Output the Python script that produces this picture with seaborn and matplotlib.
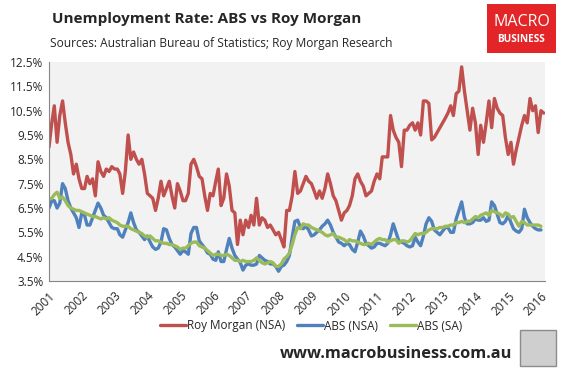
import pandas as pd
import matplotlib
matplotlib.use("Agg")
import matplotlib.pyplot as plt
import matplotlib.patches as mpatches
import seaborn as sns

# monthly readings, Jan 2001 onwards
roy_morgan = [
    9.0, 10.0, 10.7, 9.2, 10.3, 10.9, 10.0, 9.2, 8.7, 7.9, 8.3, 7.7,
    7.3, 7.3, 7.8, 7.5, 7.7, 7.0, 8.4, 8.0, 7.8, 8.1, 8.0, 8.2,
    8.1, 8.1, 7.9, 7.1, 8.0, 9.5, 8.5, 8.8, 8.5, 8.3, 8.5, 7.9,
    7.1, 7.0, 6.9, 6.4, 6.9, 7.6, 7.0, 7.3, 7.6, 7.0, 6.5, 7.5,
    7.2, 6.8, 6.8, 7.1, 8.3, 8.5, 8.2, 7.8, 7.7, 7.0, 6.4, 7.1,
    7.0, 7.6, 8.1, 6.6, 6.9, 7.9, 7.4, 6.4, 6.3, 5.0, 6.0, 5.4,
    6.0, 5.7, 6.2, 5.8, 6.9, 5.8, 6.1, 6.0, 5.7, 5.8, 5.6, 5.4,
    5.5, 5.2, 4.9, 6.4, 6.4, 7.0, 8.0, 7.1, 7.2, 7.5, 7.8, 7.6,
    7.5, 7.2, 6.9, 7.2, 6.9, 7.3, 7.9, 7.5, 7.0, 6.8, 6.4, 6.0,
    6.3, 6.4, 6.6, 7.0, 7.7, 7.9, 7.6, 7.4, 7.0, 7.1, 7.2, 7.6,
    7.9, 7.7, 8.6, 8.6, 8.6, 10.3, 9.7, 9.4, 9.2, 8.2, 9.7, 9.7,
    9.9, 10.0, 9.7, 10.0, 9.5, 10.9, 10.9, 10.8, 9.3, 9.4, 9.6, 9.8,
    10.0, 10.2, 10.4, 10.7, 10.3, 11.2, 11.3, 12.3, 11.3, 10.5, 9.7, 10.6,
    10.0, 8.7, 9.9, 9.2, 10.0, 10.9, 9.8, 11.0, 10.6, 10.4, 10.3, 9.4,
    8.7, 9.2, 8.3, 8.9, 9.4, 9.9, 10.3, 10.0, 11.0, 10.5, 10.7, 9.6,
    10.5, 10.4,
]

abs_nsa = [
    6.5, 6.8, 6.8, 6.5, 6.7, 7.5, 7.3, 6.8, 6.5, 6.3, 6.1, 5.7,
    6.3, 6.2, 5.8, 5.8, 6.1, 6.4, 6.7, 6.5, 6.2, 6.1, 5.9, 5.7,
    5.65, 5.65, 5.4, 5.3, 5.6, 5.9, 6.3, 5.9, 5.6, 5.5, 5.35, 5.2,
    5.35, 5.1, 4.9, 4.8, 4.85, 5.1, 5.65, 5.6, 5.25, 5.0, 4.9, 4.75,
    4.6, 4.75, 4.7, 4.6, 5.45, 5.7, 5.7, 5.15, 5.0, 4.85, 4.65, 4.6,
    4.4, 4.35, 4.7, 4.3, 4.3, 4.8, 5.25, 4.85, 4.55, 4.4, 4.25, 3.95,
    4.15, 4.2, 4.15, 4.15, 4.2, 4.55, 4.45, 4.35, 4.3, 4.2, 4.2, 4.1,
    3.9, 4.1, 4.15, 4.3, 4.55, 5.3, 5.95, 6.0, 5.7, 5.65, 5.75, 5.6,
    5.35, 5.4, 5.5, 5.6, 5.75, 5.85, 6.0, 5.8, 5.5, 5.3, 5.1, 5.05,
    4.95, 5.05, 5.0, 4.8, 4.7, 5.1, 5.55, 5.35, 5.05, 4.95, 4.85, 4.9,
    5.05, 5.05, 5.0, 4.95, 5.05, 5.4, 5.85, 5.5, 5.15, 5.1, 5.05, 4.95,
    4.9, 4.95, 5.3, 5.1, 4.95, 5.35, 5.85, 6.1, 5.95, 5.6, 5.5, 5.4,
    5.55, 5.7, 5.7, 5.5, 5.5, 6.05, 6.4, 6.75, 6.1, 5.85, 5.85, 5.9,
    6.05, 6.0, 6.0, 6.1, 5.95, 6.0, 6.75, 6.6, 6.25, 5.9, 5.85, 5.95,
    6.2, 5.9, 5.65, 5.55, 5.5, 5.65, 6.45, 6.1, 5.9, 5.75, 5.65, 5.6,
    5.6,
]

abs_sa = [
    6.85, 6.9, 7.05, 7.15, 6.9, 6.95, 6.8, 6.6, 6.5, 6.45, 6.4, 6.4,
    6.35, 6.3, 6.25, 6.2, 6.15, 6.15, 6.1, 6.05, 6.1, 6.05, 6.1, 6.0,
    5.95, 5.9, 5.8, 5.75, 5.75, 5.75, 5.65, 5.6, 5.55, 5.5, 5.45, 5.35,
    5.3, 5.35, 5.25, 5.15, 5.15, 5.1, 5.05, 5.05, 5.0, 5.0, 4.95, 4.9,
    4.8, 4.85, 4.85, 4.95, 5.05, 5.1, 5.1, 4.95, 4.9, 4.85, 4.75, 4.65,
    4.55, 4.6, 4.6, 4.55, 4.55, 4.6, 4.55, 4.45, 4.35, 4.35, 4.3, 4.35,
    4.3, 4.3, 4.3, 4.35, 4.45, 4.35, 4.25, 4.2, 4.25, 4.3, 4.25, 4.1,
    4.1, 4.2, 4.4, 4.5, 4.65, 5.0, 5.4, 5.7, 5.65, 5.85, 5.8, 5.8,
    5.7, 5.65, 5.6, 5.55, 5.5, 5.4, 5.35, 5.4, 5.45, 5.3, 5.3, 5.25,
    5.2, 5.1, 5.2, 5.15, 5.15, 5.1, 5.05, 5.0, 5.0, 5.05, 5.0, 5.1,
    5.2, 5.25, 5.2, 5.2, 5.1, 5.15, 5.2, 5.2, 5.05, 5.15, 5.15, 5.1,
    5.15, 5.3, 5.45, 5.4, 5.45, 5.45, 5.5, 5.6, 5.65, 5.65, 5.65, 5.7,
    5.7, 5.75, 5.75, 5.8, 5.8, 5.9, 5.9, 5.95, 5.9, 5.95, 5.95, 6.05,
    6.15, 6.1, 6.2, 6.25, 6.3, 6.2, 6.4, 6.35, 6.3, 6.25, 6.15, 6.3,
    6.25, 6.1, 6.15, 5.95, 5.75, 5.95, 5.9, 5.8, 5.8, 5.8, 5.8, 5.8,
    5.75,
]

series_names = ["Roy Morgan (NSA)", "ABS (NSA)", "ABS (SA)"]
series_colors = ["#c0504d", "#4f81bd", "#9bbb59"]
year_labels = [str(y) for y in range(2001, 2017)]
y_ticks = [3.5, 4.5, 5.5, 6.5, 7.5, 8.5, 9.5, 10.5, 11.5, 12.5]

frames = []
for name, vals in zip(series_names, [roy_morgan, abs_nsa, abs_sa]):
    dates = pd.date_range("2001-01-01", periods=len(vals), freq="MS")
    frames.append(pd.DataFrame({"date": dates, "rate": vals, "series": name}))
df = pd.concat(frames, ignore_index=True)

sns.set_style("white")
plt.rcParams["font.family"] = ["Open Sans", "DejaVu Sans"]

fig = plt.figure(figsize=(5.68, 3.68), dpi=100)
ax = fig.add_axes([49 / 568, 1 - 281 / 368, 496 / 568, 219 / 368])
ax.set_facecolor("#f2f2f2")

sns.lineplot(data=df, x="date", y="rate", hue="series", hue_order=series_names,
             palette=dict(zip(series_names, series_colors)), linewidth=2.4, ax=ax)

ax.set_ylim(3.5, 12.5)
ax.set_yticks(y_ticks)
ax.set_yticklabels([f"{v:.1f}%" for v in y_ticks], fontsize=8.5, color="#262626")
ax.set_xlim(pd.Timestamp("2001-01-01"), pd.Timestamp("2016-02-15"))
ax.set_xticks([pd.Timestamp(f"{y}-01-01") for y in year_labels])
ax.set_xticklabels(year_labels, rotation=45, ha="right", rotation_mode="anchor",
                   fontsize=8.5, color="#262626")
ax.tick_params(axis="y", length=0, pad=4)
ax.tick_params(axis="x", length=4, width=0.8, color="#868686", direction="out", pad=2)
ax.set_xlabel("")
ax.set_ylabel("")
for side in ["top", "right"]:
    ax.spines[side].set_visible(False)
for side in ["left", "bottom"]:
    ax.spines[side].set_color("#868686")
    ax.spines[side].set_linewidth(0.8)

handles, labels = ax.get_legend_handles_labels()
ax.get_legend().remove()
fig.legend(handles, labels, loc="center", bbox_to_anchor=(311 / 568, 1 - 326 / 368),
           ncol=3, frameon=False, fontsize=8.5, handlelength=2.2, handletextpad=0.1,
           columnspacing=1.0)

fig.text(52 / 568, 1 - 19 / 368, "Unemployment Rate: ABS vs Roy Morgan",
         fontsize=11, fontweight="bold", va="center", ha="left")
fig.text(50 / 568, 1 - 44 / 368, "Sources: Australian Bureau of Statistics; Roy Morgan Research",
         fontsize=8.6, va="center", ha="left")

# logo box
fig.patches.append(mpatches.Rectangle((487 / 568, 1 - 53 / 368), 69 / 568, 49 / 368,
                                      transform=fig.transFigure, facecolor="#e42527",
                                      edgecolor="none"))
fig.text(521.5 / 568, 1 - 22 / 368, "MACRO", color="white", fontsize=11.5,
         ha="center", va="center")
fig.text(521.5 / 568, 1 - 39 / 368, "BUSINESS", color="white", fontsize=7.2,
         fontweight="bold", ha="center", va="center")

fig.text(396 / 568, 1 - 354 / 368, "www.macrobusiness.com.au", fontsize=11.8,
         fontweight="bold", ha="center", va="center")
fig.patches.append(mpatches.Rectangle((520 / 568, 1 - 366 / 368), 36 / 568, 36 / 368,
                                      transform=fig.transFigure, facecolor="#cfcfcf",
                                      edgecolor="#8c8c8c", linewidth=1))

fig.savefig("out.png", dpi=100)
